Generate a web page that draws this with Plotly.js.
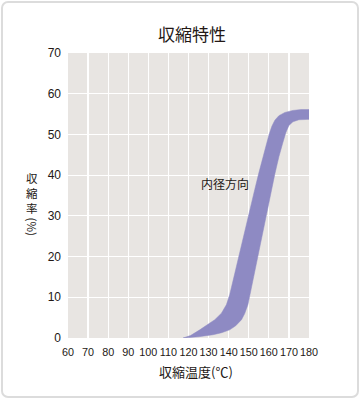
<!DOCTYPE html>
<html>
<head>
<meta charset="utf-8">
<script src="https://cdn.plot.ly/plotly-3.0.1.min.js"></script>
<style>
  html, body { margin:0; padding:0; background:#fff; }
  #wrap { position:relative; width:360px; height:399px; }
  #chart { position:absolute; left:0; top:0; width:360px; height:399px; }
  #frame { position:absolute; left:1px; top:1px; width:354px; height:393px; border:2px solid #dcdcdc; border-radius:7px; pointer-events:none; }
</style>
</head>
<body>
<div id="wrap"><div id="chart"></div><div id="frame"></div></div>
<script>
// Upper (left) boundary of the shrinkage band: temperature (°C) and shrinkage (%)
const upperTemp = [117.3,121,125.6,129.5,133.1,136.4,138.9,140.5,142.2,144.7,147,150,153,155,158,160,161.5,163,165,168,172,176,180];
const upperRate = [0,0.6,2.0,3.2,4.5,6.1,8.2,10.6,14.2,19.4,24,30.2,36.5,40.5,46.5,49.8,52,53.5,54.6,55.4,55.9,56.1,56.1];
// Lower (right) boundary of the shrinkage band
const lowerTemp = [117.3,125,132.2,136.5,140.5,143.5,146.4,148,149.6,151.3,152.5,154,156,158.8,161,163,165,167,168.5,170,172,175,180];
const lowerRate = [0,0.3,0.8,1.3,2.0,3.0,4.5,6.0,8.2,11.8,14.8,18.8,23.5,30.2,35.5,40.3,44.5,48,50.5,52.2,53.1,53.6,53.7];

const xTicks = [60,70,80,90,100,110,120,130,140,150,160,170,180];
const yTicks = [0,10,20,30,40,50,60,70];

const chartTitle = '収縮特性';
const xTitle = '収縮温度(℃)';
const yTitleMain = '収<br>縮<br>率';
const yTitleUnit = '(%)';
const bandLabel = '内径方向';
const bandLabelPos = {x: 138.3, y: 37.9};

const bandX = upperTemp.concat(lowerTemp.slice().reverse());
const bandY = upperRate.concat(lowerRate.slice().reverse());

const CJK = '"Noto Sans CJK JP", "Noto Sans", sans-serif';
const TICKF = '"Liberation Sans", Arial, sans-serif';

const trace = {
  type: 'scatter', mode: 'lines',
  x: bandX, y: bandY,
  fill: 'toself', fillcolor: '#8e8ac3',
  line: {color: '#8e8ac3', width: 0.5},
  hoverinfo: 'skip', showlegend: false
};

const PH = 285;
const annotations = [
  {xref:'paper', yref:'paper', x: (31.5-68)/241, y: (338-193)/PH,
    text: yTitleMain, showarrow:false, xanchor:'center', yanchor:'middle',
    font:{family: CJK, size: 11.5, color:'#231815'}},
  {xref:'paper', yref:'paper', x: (31.5-68)/241, y: (338-226)/PH,
    text: yTitleUnit, textangle: 90, showarrow:false, xanchor:'center', yanchor:'middle',
    font:{family: CJK, size: 11.5, color:'#231815'}},
  {xref:'x', yref:'y', x: bandLabelPos.x, y: bandLabelPos.y, text: bandLabel,
    showarrow:false, xanchor:'center', yanchor:'middle',
    font:{family: CJK, size: 12, color:'#231815'}},
  {xref:'paper', yref:'paper', x: (196-68)/241, y: (338-371.5)/PH, text: xTitle,
    showarrow:false, xanchor:'center', yanchor:'middle',
    font:{family: CJK, size: 13, color:'#231815'}}
];

const layout = {
  width: 360, height: 399,
  margin: {l: 68, r: 51, t: 53, b: 61, pad: 0},
  paper_bgcolor: '#ffffff', plot_bgcolor: '#e8e5e2',
  title: {text: chartTitle, x: 192/360, xref:'container', xanchor:'center', y: 1-35/399, yref:'container', yanchor:'middle',
    font: {family: CJK, size: 17, color: '#231815'}},
  xaxis: {range: [60, 180], tickvals: xTicks, ticktext: xTicks.map(String), tickangle: 0,
    showgrid: true, gridcolor: '#ffffff', gridwidth: 1.2, zeroline: false, showline: false,
    ticks: '', ticklabelstandoff: 6, tickfont: {family: TICKF, size: 10.8, color: '#231815'}, fixedrange: true},
  yaxis: {range: [0, 70], tickvals: yTicks, ticktext: yTicks.map(String),
    showgrid: true, gridcolor: '#ffffff', gridwidth: 1.2, zeroline: false, showline: false,
    ticks: '', ticklabelstandoff: 6, tickfont: {family: TICKF, size: 12, color: '#231815'}, fixedrange: true},
  annotations: annotations,
  showlegend: false
};

Plotly.newPlot('chart', [trace], layout, {displayModeBar: false, staticPlot: true});
</script>
</body>
</html>
